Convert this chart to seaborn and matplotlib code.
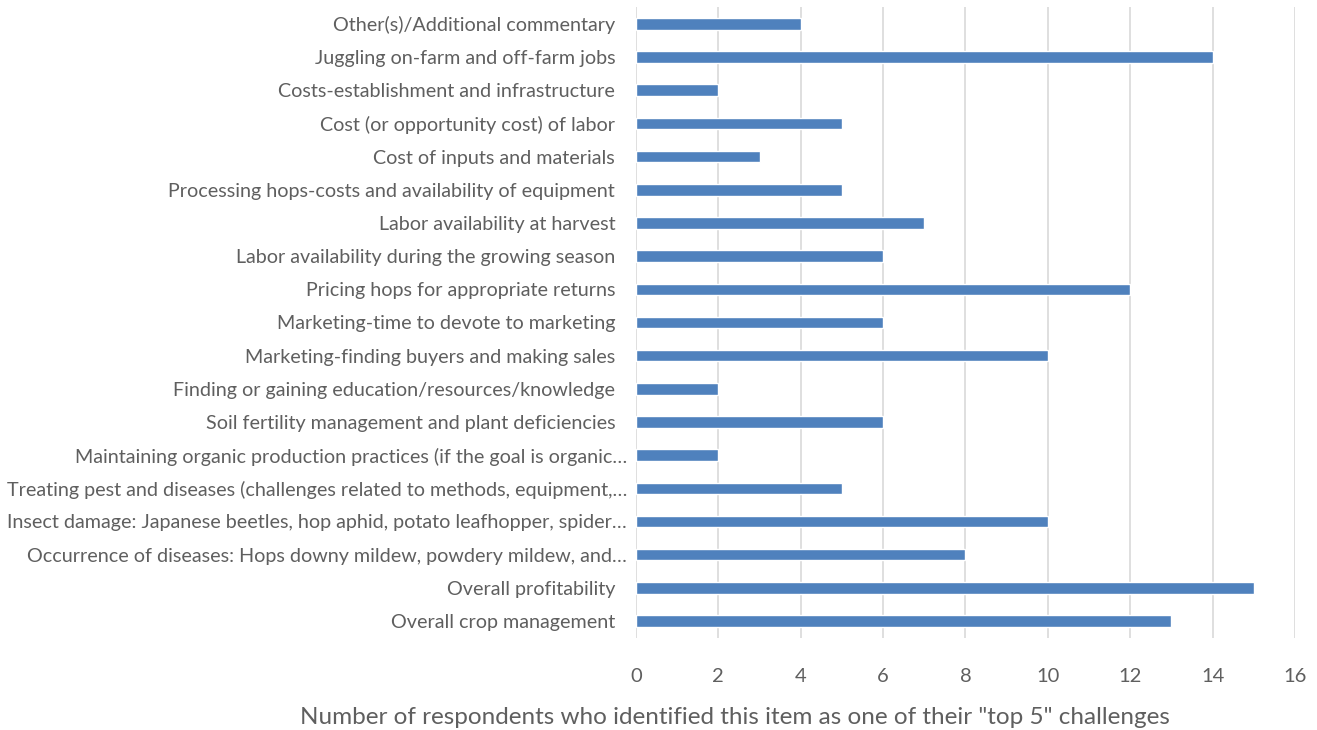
import matplotlib
matplotlib.use("Agg")
import matplotlib.pyplot as plt
import matplotlib.transforms as mtransforms
import seaborn as sns
import pandas as pd

categories = [
    "Other(s)/Additional commentary",
    "Juggling on-farm and off-farm jobs",
    "Costs-establishment and infrastructure",
    "Cost (or opportunity cost) of labor",
    "Cost of inputs and materials",
    "Processing hops-costs and availability of equipment",
    "Labor availability at harvest",
    "Labor availability during the growing season",
    "Pricing hops for appropriate returns",
    "Marketing-time to devote to marketing",
    "Marketing-finding buyers and making sales",
    "Finding or gaining education/resources/knowledge",
    "Soil fertility management and plant deficiencies",
    "Maintaining organic production practices (if the goal is organic\u2026",
    "Treating pest and diseases (challenges related to methods, equipment,\u2026",
    "Insect damage: Japanese beetles, hop aphid, potato leafhopper, spider\u2026",
    "Occurrence of diseases: Hops downy mildew, powdery mildew, and\u2026",
    "Overall profitability",
    "Overall crop management",
]
counts = [4, 14, 2, 5, 3, 5, 7, 6, 12, 6, 10, 2, 6, 2, 5, 10, 8, 15, 13]
x_ticks = [0, 2, 4, 6, 8, 10, 12, 14, 16]
x_label = 'Number of respondents who identified this item as one of their "top 5" challenges'

sns.set_theme(style="white")
plt.rcParams["font.family"] = ["Lato", "DejaVu Sans"]

df = pd.DataFrame({"category": categories, "count": counts})

fig = plt.figure(figsize=(13.17, 7.30), dpi=100)
ax = fig.add_axes([0.4829, 0.1266, 0.5004, 0.8633])

sns.barplot(data=df, y="category", x="count", orient="h", color="#4F81BD",
            saturation=1, width=0.35, ax=ax, order=categories)

ax.set_xlim(0, 16)
ax.set_ylim(len(categories) - 0.5, -0.5)
ax.set_xticks(x_ticks)
ax.grid(axis="x", color="#D9D9D9", linewidth=1.2)
ax.set_axisbelow(True)
for s in ax.spines.values():
    s.set_visible(False)

ax.tick_params(axis="y", length=0, pad=15, labelsize=14.25, labelcolor="#5f5f5f")
ax.tick_params(axis="x", length=0, pad=22, labelsize=14.5, labelcolor="#5f5f5f")
shift = mtransforms.ScaledTranslation(12 / 100, 0, fig.dpi_scale_trans)
for lab in ax.get_yticklabels():
    if lab.get_text().endswith("\u2026"):
        lab.set_transform(lab.get_transform() + shift)
ax.set_ylabel("")
ax.set_xlabel("")
fig.text(735 / 1317, 1 - 718 / 730, x_label, fontsize=17.5, color="#5f5f5f",
         ha="center", va="center")

fig.savefig("out.png", dpi=100)
